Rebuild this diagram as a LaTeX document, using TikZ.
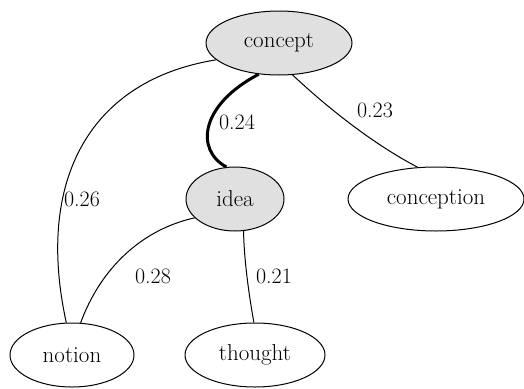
\documentclass[tikz,border=0pt]{standalone}
\usetikzlibrary{shapes.geometric}
\begin{document}
\begin{tikzpicture}[x=1pt,y=-1pt,
  nd/.style={draw, line width=1pt, ellipse, inner sep=0pt, font=\fontsize{23}{26}\selectfont},
  hl/.style={fill=black!12},
  ed/.style={draw, line width=1pt},
  lb/.style={font=\fontsize{22}{26}\selectfont}]
\useasboundingbox (0,0) rectangle (524,388);
\node[nd,hl,minimum width=146pt,minimum height=64pt] (concept) at (279,43) {concept};
\node[nd,hl,minimum width=98pt,minimum height=64pt] (idea) at (235,199) {idea};
\node[nd,minimum width=176pt,minimum height=64pt] (conception) at (436,199) {conception};
\node[nd,minimum width=124pt,minimum height=64pt] (notion) at (72,355) {notion};
\node[nd,minimum width=140pt,minimum height=64pt] (thought) at (255,355) {thought};
\draw[ed,line width=3pt] (concept.237) .. controls (200,105) and (195,150) .. (idea.105);
\draw[ed] (concept.195) .. controls (90,80) and (35,180) .. (notion.100);
\draw[ed] (concept.293) .. controls (330,110) and (375,145) .. (conception.120);
\draw[ed] (idea.205) .. controls (140,230) and (100,270) .. (notion.75);
\draw[ed] (idea.285) .. controls (244,260) and (249,295) .. (thought.92);
\node[lb] (l1) at (237,122) {0.24};
\node[lb] (l2) at (375,110) {0.23};
\node[lb] (l3) at (82,199) {0.26};
\node[lb] (l4) at (153,276) {0.28};
\node[lb] (l5) at (274,276) {0.21};
\end{tikzpicture}
\end{document}
